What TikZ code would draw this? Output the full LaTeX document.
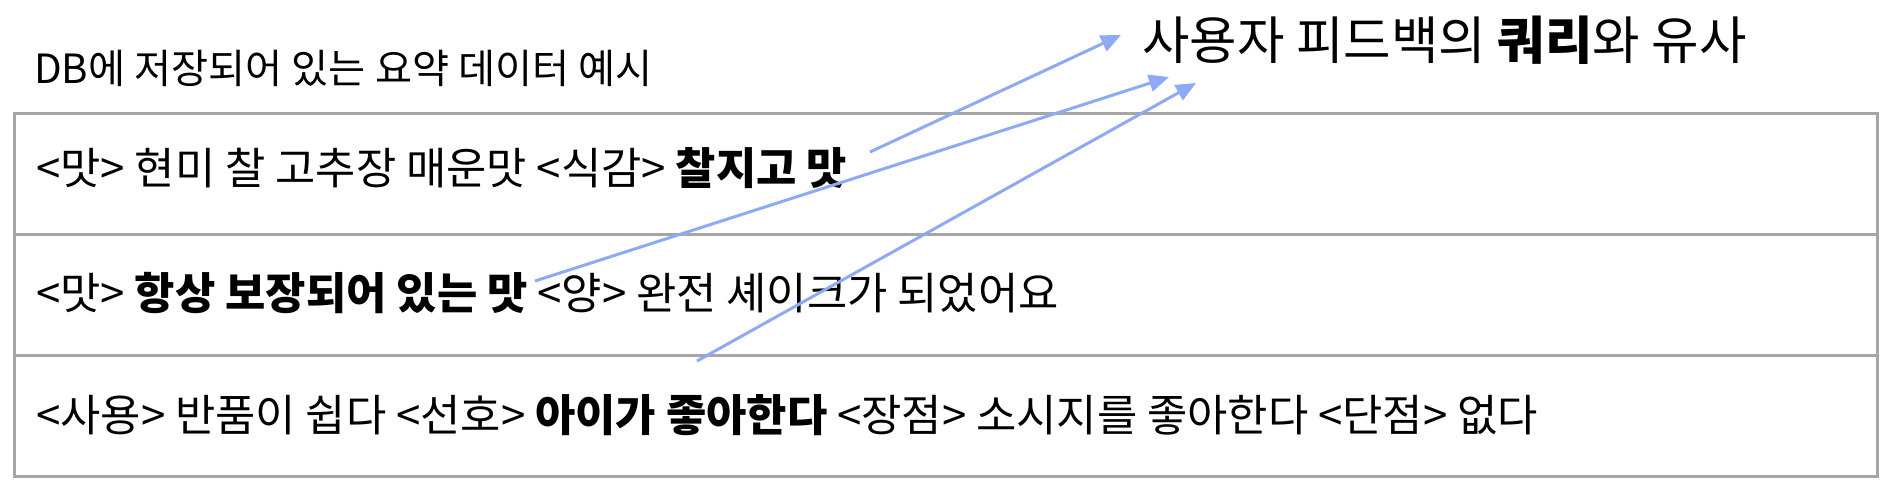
\documentclass[tikz,border=0pt]{standalone}
\usepackage{fontspec}
\setmainfont{Noto Sans CJK KR}
\usetikzlibrary{arrows.meta}
\definecolor{linkblue}{RGB}{143,170,245}
\definecolor{framegray}{RGB}{166,166,166}
\tikzset{
  frame/.style={draw=framegray, line width=3pt},
  rowtext/.style={anchor=west, inner sep=0pt, font=\fontsize{43.8}{50}\selectfont},
  titletext/.style={anchor=west, inner sep=0pt, font=\fontsize{40.3}{46}\selectfont},
  querytext/.style={anchor=west, inner sep=0pt, font=\fontsize{51.6}{58}\selectfont},
  link/.style={draw=linkblue, line width=3pt, -{Triangle[length=20pt,width=17pt,fill=linkblue]}}
}
\begin{document}
\begin{tikzpicture}[x=1pt,y=-1pt]
\useasboundingbox (0,0) rectangle (1900,492);
% table
\draw[frame] (14,114) rectangle (1877,476);
\draw[frame] (14,234) -- (1877,234);
\draw[frame] (14,355) -- (1877,355);
% texts
\node[titletext] (title) at (34,68) {DB에 저장되어 있는 요약 데이터 예시};
\node[querytext] (query) at (1142,40) {사용자 피드백의 \textbf{쿼리}와 유사};
\node[rowtext] (row1) at (36,168) {<맛> 현미 찰 고추장 매운맛 <식감> \textbf{찰지고 맛}};
\node[rowtext] (row2) at (36,293) {<맛> \textbf{항상 보장되어 있는 맛} <양> 완전 셰이크가 되었어요};
\node[rowtext] (row3) at (36,415) {<사용> 반품이 쉽다 <선호> \textbf{아이가 좋아한다} <장점> 소시지를 좋아한다 <단점> 없다};
% connector ends
\coordinate (s1) at (870,152);
\coordinate (s2) at (535,281);
\coordinate (s3) at (697,361);
\coordinate (t1) at (1121,35);
\coordinate (t2) at (1169,77);
\coordinate (t3) at (1196,83);
\draw[link] (s1) -- (t1);
\draw[link] (s2) -- (t2);
\draw[link] (s3) -- (t3);
\end{tikzpicture}
\end{document}
